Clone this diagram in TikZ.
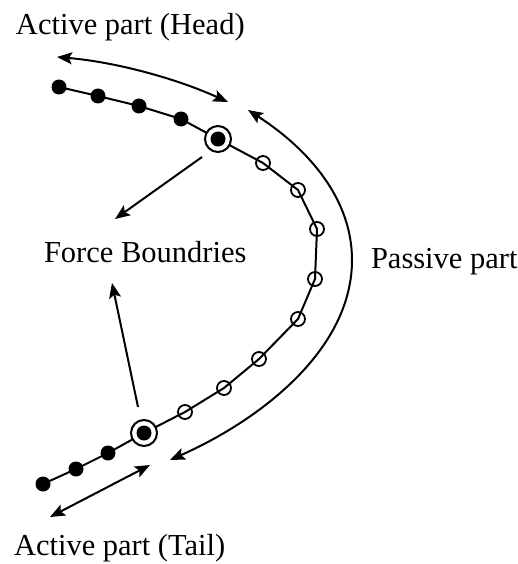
\documentclass[tikz,border=0pt]{standalone}
\usepackage{fontspec}
\setmainfont{Liberation Serif}
\usetikzlibrary{arrows.meta,backgrounds}
\begin{document}
\begin{tikzpicture}[x=1pt,y=-1pt,
  line width=2pt,
  chain/.style={line width=2pt},
  solid dot/.style={circle,fill=black,inner sep=0pt,minimum size=15pt},
  hollow dot/.style={circle,draw=black,line width=1.8pt,inner sep=0pt,minimum size=14pt},
  ring/.style={circle,draw=black,fill=white,line width=2pt,inner sep=0pt,minimum size=26pt},
  label text/.style={anchor=base west,inner sep=0pt,font=\fontsize{30.5}{36}\selectfont},
  tip/.style={-{Stealth[length=15pt,width=12pt,inset=3pt]}},
  twotips/.style={{Stealth[length=15pt,width=12pt,inset=3pt]}-{Stealth[length=15pt,width=12pt,inset=3pt]}}]
\useasboundingbox (0,0) rectangle (518,564);

% head segment (active)
\node[solid dot] (h1) at (59,87) {};
\node[solid dot] (h2) at (98,96) {};
\node[solid dot] (h3) at (139,106) {};
\node[solid dot] (h4) at (181,119) {};
\node[ring] (hb) at (218,139) {};
\node[solid dot] (hbd) at (218,139) {};

% body (passive)
\node[hollow dot] (p1) at (263,163) {};
\node[hollow dot] (p2) at (298,190) {};
\node[hollow dot] (p3) at (317,229) {};
\node[hollow dot] (p4) at (315,279) {};
\node[hollow dot] (p5) at (298,319) {};
\node[hollow dot] (p6) at (259,359) {};
\node[hollow dot] (p7) at (224,388) {};
\node[hollow dot] (p8) at (185,412) {};

% tail segment (active)
\node[ring] (tb) at (144,433) {};
\node[solid dot] (tbd) at (144,433) {};
\node[solid dot] (t1) at (108,453) {};
\node[solid dot] (t2) at (76,469) {};
\node[solid dot] (t3) at (43,484) {};

\begin{scope}[on background layer]
  \draw[chain] (h1.center) -- (h2.center) -- (h3.center) -- (h4.center) -- (hb.center)
        -- (p1.center) -- (p2.center) -- (p3.center) -- (p4.center) -- (p5.center)
        -- (p6.center) -- (p7.center) -- (p8.center) -- (tb.center)
        -- (t1.center) -- (t2.center) -- (t3.center);
\end{scope}

% labels
\node[label text] (head) at (15,35) {Active part (Head)};
\node[label text] (force) at (43,262) {Force Boundries};
\node[label text] (passive) at (370,268) {Passive part};
\node[label text] (tail) at (13,555) {Active part (Tail)};

% span arrows
\coordinate (ha) at (57,57);
\coordinate (hz) at (228,102);
\draw[twotips] (ha) .. controls (115,62) and (175,78) .. (hz);

\coordinate (pa) at (248,110);
\coordinate (pm) at (352,260);
\coordinate (pz) at (170,460);
\draw[twotips] (pa) .. controls (310,150) and (352,200) .. (pm)
                    .. controls (352,350) and (260,420) .. (pz);

\coordinate (ta) at (50,517);
\coordinate (tz) at (150,465);
\draw[twotips] (ta) -- (tz);

% pointers to the force boundaries label
\coordinate (fa) at (202,157);
\coordinate (fz) at (115,219);
\draw[tip] (fa) -- (fz);
\coordinate (ga) at (138,407);
\coordinate (gz) at (112,283);
\draw[tip] (ga) -- (gz);
\end{tikzpicture}
\end{document}
